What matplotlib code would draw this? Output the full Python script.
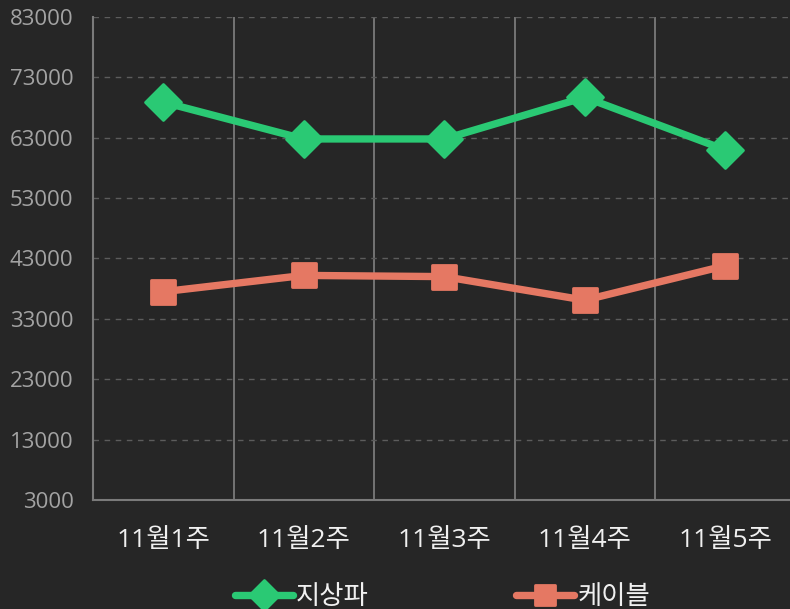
import matplotlib
matplotlib.use("Agg")
import matplotlib.pyplot as plt
from matplotlib.ticker import FixedLocator
from matplotlib.markers import MarkerStyle

categories = ["11월1주", "11월2주", "11월3주", "11월4주", "11월5주"]
terrestrial = [68900, 62800, 62800, 69700, 61000]
cable = [37500, 40200, 40000, 36100, 41800]
series_names = ["지상파", "케이블"]
y_ticks = [3000, 13000, 23000, 33000, 43000, 53000, 63000, 73000, 83000]

plt.rcParams['font.family'] = ['Open Sans', 'Noto Sans CJK KR', 'DejaVu Sans']

bg = "#262626"
green = "#2ac974"
salmon = "#e57863"
grid_c = "#7a7a7a"

fig = plt.figure(figsize=(7.9, 6.09), dpi=100, facecolor=bg)
W, H = 790, 609
left, right, top, bottom = 93, 795.5, 17, 500
ax = fig.add_axes([left / W, 1 - bottom / H, (right - left) / W, (bottom - top) / H])
ax.set_facecolor(bg)

x = list(range(len(categories)))
ax.plot(x, terrestrial, color=green, lw=5.3, marker=MarkerStyle("D", joinstyle="round"),
        markersize=18, markeredgewidth=2, markeredgecolor=green,
        solid_joinstyle="round", solid_capstyle="round",
        label=series_names[0], zorder=3)
ax.plot(x, cable, color=salmon, lw=5.3, marker=MarkerStyle("s", joinstyle="round"),
        markersize=17, markeredgewidth=2, markeredgecolor=salmon,
        solid_joinstyle="round", solid_capstyle="round",
        label=series_names[1], zorder=3)

ax.set_xlim(-0.5, len(categories) - 0.5)
ax.set_ylim(3000, 83000)
ax.set_yticks(y_ticks)
ax.set_yticklabels([str(v) for v in y_ticks])
ax.set_xticks(x)
ax.set_xticklabels(categories)
ax.xaxis.set_minor_locator(FixedLocator([i + 0.5 for i in range(len(categories) - 1)]))

ax.grid(axis="y", which="major", color="#5c5c5c", linestyle=(0, (4, 4)), lw=1)
ax.grid(axis="x", which="minor", color=grid_c, linestyle="-", lw=1.3)
ax.grid(axis="x", which="major", visible=False)
ax.set_axisbelow(True)

for s in ["top", "right"]:
    ax.spines[s].set_visible(False)
for s in ["left", "bottom"]:
    ax.spines[s].set_color(grid_c)
    ax.spines[s].set_linewidth(1.5)

ax.tick_params(axis="both", which="both", length=0)
ax.tick_params(axis="y", colors="#a3a3a3", labelsize=16, pad=14)
ax.tick_params(axis="x", colors="#f0f0f0", labelsize=19, pad=20)

leg = fig.legend(loc="center", bbox_to_anchor=(442.5 / W, 1 - 598 / H), ncol=2,
                 frameon=False, fontsize=19, handlelength=2.2, handletextpad=0.1,
                 columnspacing=5.6, labelcolor="#f0f0f0")
for h in leg.legend_handles:
    h.set_markersize(15)

fig.savefig("out.png", dpi=100, facecolor=bg)
